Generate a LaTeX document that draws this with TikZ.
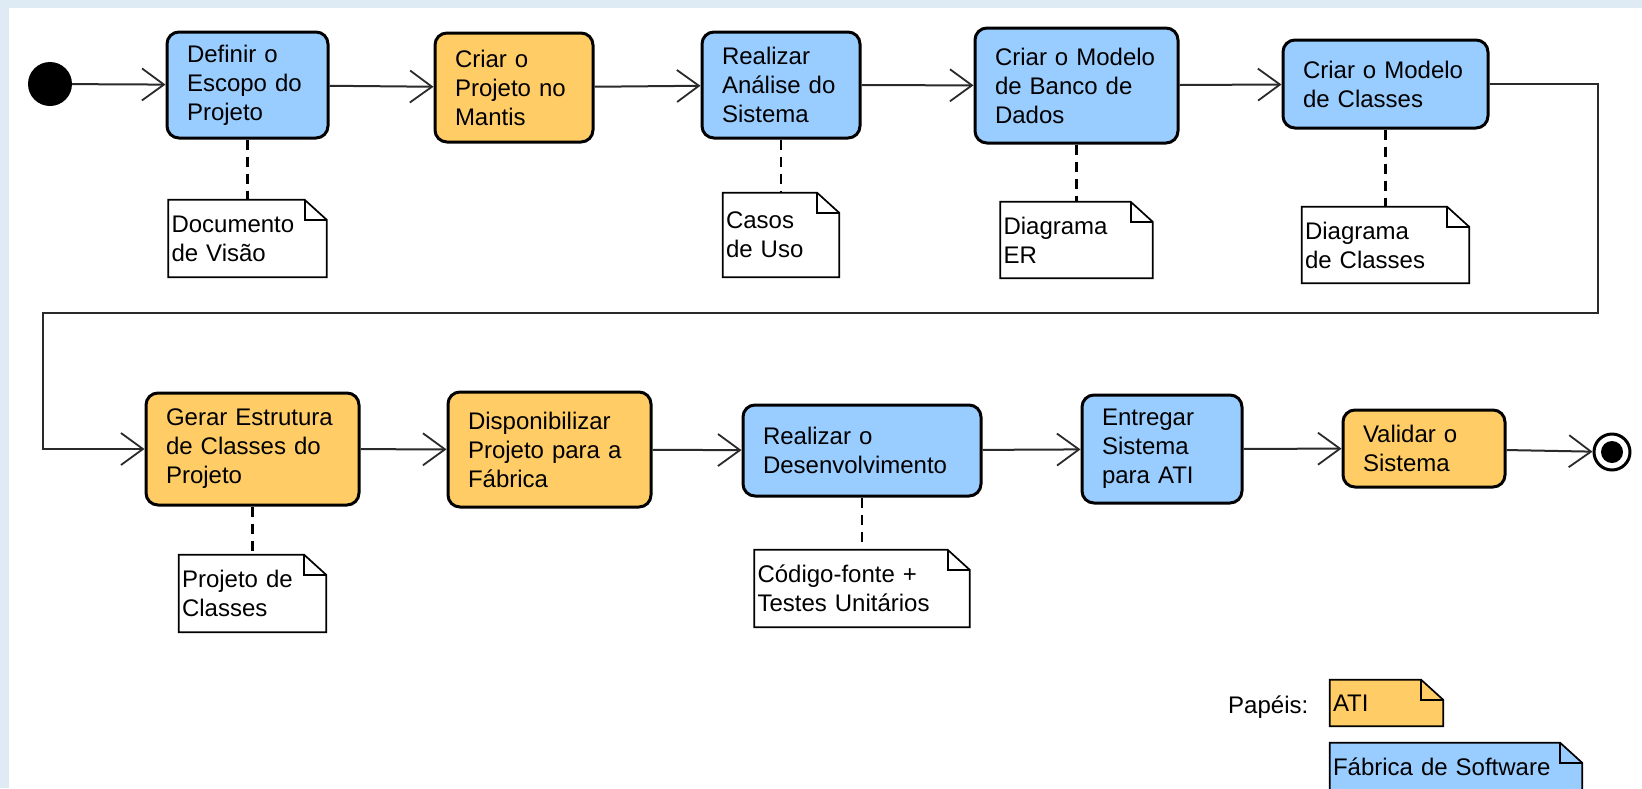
\documentclass[tikz,border=0pt]{standalone}
\usepackage{fontspec}
\setmainfont{Liberation Sans}
\usetikzlibrary{arrows.meta,backgrounds}
\definecolor{fabblue}{HTML}{99CCFF}
\definecolor{atiorange}{HTML}{FFCC66}
\definecolor{bgblue}{HTML}{DEEAF4}
\definecolor{linegray}{HTML}{2A2A2A}
\newcommand{\notefold}[2]{%
  \draw[line width=1.7pt, fill=#2] (#1.north west) -- ([xshift=-22pt]#1.north east) -- ([yshift=-20pt]#1.north east) -- (#1.south east) -- (#1.south west) -- cycle;
  \draw[line width=1.7pt] ([xshift=-22pt]#1.north east) -- ([xshift=-22pt,yshift=-20pt]#1.north east) -- ([yshift=-20pt]#1.north east);}
\begin{document}
\begin{tikzpicture}[x=1pt, y=-1pt,
  font=\fontsize{24}{29}\selectfont,
  act/.style={draw=black, line width=3pt, rounded corners=12pt, align=left,
     inner xsep=20pt, inner ysep=0pt},
  notenode/.style={align=left, inner xsep=3pt, inner ysep=0pt},
  flow/.style={line width=2pt, draw=linegray,
     -{Straight Barb[length=22pt,width=32pt,line width=1.8pt]}},
  dashline/.style={line width=2.4pt, draw=black, dash pattern=on 10pt off 7pt}]
\useasboundingbox (0,0) rectangle (1642,788);
\clip (0,0) rectangle (1642,788);

% start / end
\node[circle, fill=black, minimum size=44pt, inner sep=0pt] (start) at (50,84) {};
\node[circle, draw=black, line width=3pt, fill=white, minimum size=36pt, inner sep=0pt] (end) at (1612,452) {};
\node[circle, fill=black, minimum size=22pt, inner sep=0pt] (endin) at (end.center) {};

% top row
\node[act, fill=fabblue, text width=121pt, minimum height=106pt] (b1) at (247.5,85) {Definir o\\Escopo do\\Projeto};
\node[act, fill=atiorange, text width=118pt, minimum height=109pt] (b2) at (514,87.5) {Criar o\\Projeto no\\Mantis};
\node[act, fill=fabblue, text width=118pt, minimum height=106pt] (b3) at (781,85) {Realizar\\Análise do\\Sistema};
\node[act, fill=fabblue, text width=163pt, minimum height=115pt] (b4) at (1076.5,85.5) {Criar o Modelo\\de Banco de\\Dados};
\node[act, fill=fabblue, text width=165pt, minimum height=88pt] (b5) at (1385.5,84) {Criar o Modelo\\de Classes};

% bottom row
\node[act, fill=atiorange, text width=173pt, minimum height=112pt] (b6) at (252.5,449) {Gerar Estrutura\\de Classes do\\Projeto};
\node[act, fill=atiorange, text width=163pt, minimum height=115pt] (b7) at (549.5,449.5) {Disponibilizar\\Projeto para a\\Fábrica};
\node[act, fill=fabblue, text width=198pt, minimum height=91pt] (b8) at (862,450.5) {Realizar o\\Desenvolvimento};
\node[act, fill=fabblue, text width=120pt, minimum height=108pt] (b9) at (1162,449) {Entregar\\Sistema\\para ATI};
\node[act, fill=atiorange, text width=122pt, minimum height=77pt] (b10) at (1424,448.5) {Validar o\\Sistema};

% notes
\node[notenode, text width=152pt, minimum height=77pt] (n1) at (247.5,238.5) {Documento\\de Visão};
\node[notenode, text width=110pt, minimum height=84pt] (n3) at (781,235) {Casos\\de Uso};
\node[notenode, text width=146pt, minimum height=76pt] (n4) at (1076.5,240) {Diagrama\\ER};
\node[notenode, text width=161pt, minimum height=76pt] (n5) at (1385.5,245) {Diagrama\\de Classes};
\node[notenode, text width=141pt, minimum height=77pt] (n6) at (252.5,593.5) {Projeto de\\Classes};
\node[notenode, text width=209pt, minimum height=77pt] (n8) at (862,588.5) {Código-fonte +\\Testes Unitários};

% legend
\node[anchor=west, inner sep=0pt] (pap) at (1228,707) {Papéis:};
\node[notenode, text width=107pt, minimum height=46pt] (lati) at (1386.5,703) {ATI};
\node[notenode, text width=246pt, minimum height=47pt] (lfab) at (1456,766.5) {Fábrica de Software};

\begin{pgfonlayer}{background}
  \fill[bgblue] (0,0) rectangle (1642,788);
  \fill[white] (9,7.5) rectangle (1642,788);
  \notefold{n1}{white}
  \notefold{n3}{white}
  \notefold{n4}{white}
  \notefold{n5}{white}
  \notefold{n6}{white}
  \notefold{n8}{white}
  \notefold{lati}{atiorange}
  \notefold{lfab}{fabblue}
\end{pgfonlayer}

% flows
\draw[flow] (start) -- (b1);
\draw[flow] (b1) -- (b2);
\draw[flow] (b2) -- (b3);
\draw[flow] (b3) -- (b4);
\draw[flow] (b4) -- (b5);
\coordinate (lr) at (1598,313);
\coordinate (ll) at (43,313);
\draw[flow] (b5.east) -| (lr) -- (ll) |- (b6.west);
\draw[flow] (b6) -- (b7);
\draw[flow] (b7) -- (b8);
\draw[flow] (b8) -- (b9);
\draw[flow] (b9) -- (b10);
\draw[flow] (b10) -- (end);

% anchors
\draw[dashline] (b1.south) -- (n1.north);
\draw[dashline] (b3.south) -- (n3.north);
\draw[dashline] (b4.south) -- (n4.north);
\draw[dashline] (b5.south) -- (n5.north);
\draw[dashline] (b6.south) -- (n6.north);
\draw[dashline] (b8.south) -- (n8.north);
\end{tikzpicture}
\end{document}
